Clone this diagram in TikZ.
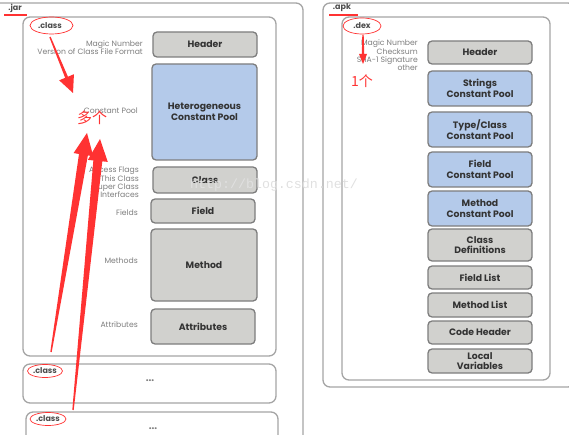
\documentclass[tikz,border=0pt]{standalone}
\usepackage{fontspec}
\setmainfont{Poppins}
\newfontfamily\cjk{Noto Sans CJK SC}
\newfontfamily\wmfont{Liberation Mono}
\usetikzlibrary{calc,shapes.geometric}
\definecolor{boxgray}{RGB}{209,209,206}
\definecolor{boxblue}{RGB}{180,202,234}
\definecolor{edgegray}{RGB}{125,125,125}
\definecolor{framegray}{RGB}{165,165,165}
\definecolor{labgray}{RGB}{125,125,125}
\definecolor{annred}{RGB}{255,50,50}
\tikzset{
  blk/.style={draw=edgegray, line width=1.3pt, rounded corners=4pt, fill=boxgray,
    inner sep=0pt, align=center, font=\fontsize{9.3}{10.5}\selectfont\bfseries, text=black!80},
  blue/.style={blk, fill=boxblue},
  frame/.style={draw=framegray, line width=1.3pt, rounded corners=7pt},
  lab/.style={font=\fontsize{7.7}{8.4}\selectfont, text=labgray, anchor=east, align=right, inner sep=0pt},
  ttl/.style={font=\fontsize{8}{9}\selectfont\bfseries, text=black!70, inner sep=0pt},
  ring/.style={draw=annred, line width=0.7pt, ellipse, inner sep=0pt},
  redtxt/.style={text=annred, inner sep=0pt},
  dots/.style={font=\fontsize{10}{10}\selectfont\bfseries, text=labgray, inner sep=0pt}
}
\newcommand{\bigarrow}[5]{% tail, tip, headlen, headhalf, shafthalf
  \coordinate (H) at ($(#2)!#3!(#1)$);
  \fill[annred] ($(#1)!0.7pt!90:(#2)$) -- ($(H)!#5!90:(#2)$) -- ($(H)!#4!90:(#2)$) -- (#2)
     -- ($(H)!#4!-90:(#2)$) -- ($(H)!#5!-90:(#2)$) -- ($(#1)!0.7pt!-90:(#2)$) -- cycle;}
\begin{document}
\begin{tikzpicture}[x=1pt,y=-1pt]
\useasboundingbox (0,0) rectangle (569,446);
\begin{scope}
\clip (0,0) rectangle (569,434);
% outer frames
\draw[frame] (-10,3) rectangle (303,460);
\draw[frame] (323,3) rectangle (575,387);
% class frames
\draw[frame] (23,17) rectangle (276,356);
\draw[frame] (23,364) rectangle (276,403);
\draw[frame] (26,412) rectangle (278,460);
\draw[frame] (342,17) rectangle (550,380);
\end{scope}
% titles
\node[ttl] (jar) at (15,8) {.jar};
\node[ttl] (apk) at (342,8) {.apk};
\node[ttl] (cls1) at (50,25.5) {.class};
\node[ttl] (cls2) at (45,371) {.class};
\node[ttl] (cls3) at (48,419) {.class};
\node[ttl] (dex) at (362,26) {.dex};
\node[dots] (dots2) at (150,381) {...};
\node[dots] (dots3) at (153,429) {...};
% left blocks
\node[blk, minimum width=104pt, minimum height=25pt] (hdr) at (205,44.5) {Header};
\node[blue, minimum width=105pt, minimum height=96pt] (hcp) at (204.5,112) {Heterogeneous\\Constant Pool};
\node[blk, minimum width=104pt, minimum height=26pt] (cls) at (205,180) {Class};
\node[blk, minimum width=104pt, minimum height=24pt] (fld) at (203,211) {Field};
\node[blk, minimum width=106pt, minimum height=72pt] (mth) at (204,265) {Method};
\node[blk, minimum width=104pt, minimum height=35pt] (att) at (203,326.5) {Attributes};
% left labels
\node[lab] (l1) at (143,47.5) {Magic Number\\Version of Class File Format};
\node[lab] (l2) at (138,111) {Constant Pool};
\node[lab] (l3) at (139,182.5) {Access Flags\\This Class\\Super Class\\Interfaces};
\node[lab] (l4) at (138,213) {Fields};
\node[lab] (l5) at (138,261) {Methods};
\node[lab] (l6) at (138,325) {Attributes};
% right blocks
\node[blk, minimum width=104pt, minimum height=23pt] (dh) at (480,52.5) {Header};
\node[blue, minimum width=104pt, minimum height=35pt] (dsc) at (480,88.5) {Strings\\Constant Pool};
\node[blue, minimum width=104pt, minimum height=35pt] (dtc) at (480,129.5) {Type/Class\\Constant Pool};
\node[blue, minimum width=104pt, minimum height=35pt] (dfc) at (480,169.5) {Field\\Constant Pool};
\node[blue, minimum width=104pt, minimum height=35pt] (dmc) at (480,208.5) {Method\\Constant Pool};
\node[blk, minimum width=104pt, minimum height=32pt] (dcd) at (480,245) {Class\\Definitions};
\node[blk, minimum width=104pt, minimum height=23pt] (dfl) at (480,277.5) {Field List};
\node[blk, minimum width=104pt, minimum height=24pt] (dml) at (480,305) {Method List};
\node[blk, minimum width=104pt, minimum height=23pt] (dch) at (480,332.5) {Code Header};
\node[blk, minimum width=104pt, minimum height=24pt] (dlv) at (480,361) {Local\\Variables};
\node[lab] (r1) at (418,55.5) {Magic Number\\Checksum\\SHA-1 Signature\\other};
% red annotations
\draw[annred, line width=2.5pt] (4,15) -- (27,15);
\draw[annred, line width=2.5pt] (329,15) -- (358,15);
\node[ring, minimum width=43pt, minimum height=17pt] (e1) at (51.5,25.5) {};
\node[ring, minimum width=35pt, minimum height=13pt] (e2) at (45,371) {};
\node[ring, minimum width=36pt, minimum height=13pt] (e3) at (48,419) {};
\node[ring, minimum width=38pt, minimum height=16pt] (e4) at (362,26) {};
\node[redtxt, font=\cjk\fontsize{15}{15}\selectfont] (duo) at (92,118) {多个};
\node[redtxt, font=\cjk\fontsize{14}{14}\selectfont] (yi) at (362,81) {1个};
\coordinate (a1t) at (50,37);  \coordinate (a1h) at (73,93);
\coordinate (a2t) at (51,352); \coordinate (a2h) at (87,133);
\coordinate (a3t) at (73,410); \coordinate (a3h) at (100,139);
\coordinate (a4t) at (363,35); \coordinate (a4h) at (363,64);
\bigarrow{a1t}{a1h}{17pt}{8pt}{1.5pt}
\bigarrow{a2t}{a2h}{22pt}{10pt}{4.5pt}
\bigarrow{a3t}{a3h}{22pt}{10pt}{4.5pt}
\bigarrow{a4t}{a4h}{10pt}{4pt}{1.2pt}
% watermark
\node[text=black!12, font=\wmfont\fontsize{13.3}{14}\selectfont, inner sep=0pt] (wm) at (274,185) {http://blog.csdn.net/};
\end{tikzpicture}
\end{document}
